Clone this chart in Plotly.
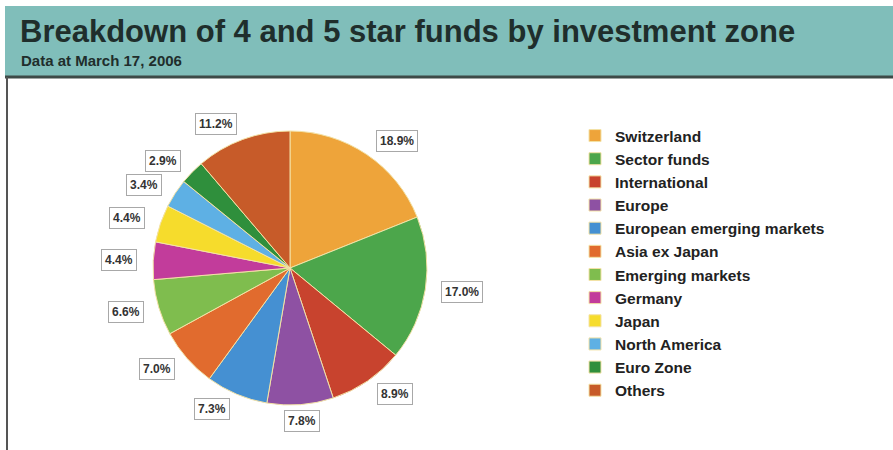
import math
import plotly.graph_objects as go

# Share of 4 and 5 star funds per investment zone (%)
zones = ["Switzerland", "Sector funds", "International", "Europe",
         "European emerging markets", "Asia ex Japan", "Emerging markets",
         "Germany", "Japan", "North America", "Euro Zone", "Others"]
shares = [18.9, 17.0, 8.9, 7.8, 7.3, 7.0, 6.6, 4.4, 4.4, 3.4, 2.9, 11.2]
colors = ["#eea43a", "#4ca64b", "#c8432e", "#8e51a3", "#4590d2", "#e16b2e",
          "#7fbd4e", "#c23c9b", "#f6dc2c", "#5eb0e4", "#2f8f3c", "#c75b29"]

W, H = 893, 450
cx, cy, r = 290, 268, 137  # pie centre and radius in pixels

fig = go.Figure(go.Pie(
    labels=zones, values=shares, sort=False, direction="clockwise", rotation=0,
    marker=dict(colors=colors, line=dict(color="#f3e2a6", width=1)),
    textinfo="none", hoverinfo="label+percent",
    domain=dict(x=[(cx - r) / W, (cx + r) / W],
                y=[(H - cy - r) / H, (H - cy + r) / H]),
))

# Boxed value labels placed just outside each slice's mid-angle,
# anchored on the side facing away from the pie
label_r = 153
cum = 0.0
total = sum(shares)
for v in shares:
    mid = (cum + v / 2) / total * 2 * math.pi
    cum += v
    s, c = math.sin(mid), math.cos(mid)
    px = cx + label_r * s
    py = cy - label_r * c
    anchor = "center" if abs(s) < 0.2 else ("left" if s > 0 else "right")
    fig.add_annotation(
        x=px / W, y=1 - py / H, xref="paper", yref="paper",
        xanchor=anchor, yanchor="middle",
        text=f"<b>{v:.1f}%</b>", showarrow=False,
        font=dict(family="Liberation Sans", size=12, color="#333333"),
        bgcolor="white", bordercolor="#a8a8a8", borderwidth=1, borderpad=3,
    )

# Header band with title and date line
fig.add_shape(type="rect", xref="paper", yref="paper",
              x0=5 / W, x1=1, y0=1 - 76 / H, y1=1 - 6 / H,
              fillcolor="#80beba", line=dict(width=0), layer="below")
fig.add_shape(type="line", xref="paper", yref="paper",
              x0=5 / W, x1=1, y0=1 - 77 / H, y1=1 - 77 / H,
              line=dict(color="#3d4a47", width=3))
fig.add_shape(type="line", xref="paper", yref="paper",
              x0=7 / W, x1=7 / W, y0=0, y1=1 - 77 / H,
              line=dict(color="#555555", width=2))
fig.add_annotation(x=18 / W, y=1 - 31 / H, xref="paper", yref="paper",
                   xanchor="left", yanchor="middle", showarrow=False,
                   text="<b>Breakdown of 4 and 5 star funds by investment zone</b>",
                   font=dict(family="Liberation Sans", size=31, color="#1f2e2c"))
fig.add_annotation(x=19 / W, y=1 - 61 / H, xref="paper", yref="paper",
                   xanchor="left", yanchor="middle", showarrow=False,
                   text="<b>Data at March 17, 2006</b>",
                   font=dict(family="Liberation Sans", size=15, color="#1f2e2c"))

fig.update_layout(
    width=W, height=H, margin=dict(l=0, r=0, t=0, b=0),
    paper_bgcolor="white", plot_bgcolor="white",
    showlegend=True,
    legend=dict(x=575 / W, y=1 - 119 / H, xanchor="left", yanchor="top",
                font=dict(family="Liberation Sans", size=15.5, color="#222222",
                          weight="bold"),
                bgcolor="rgba(0,0,0,0)", traceorder="normal"),
)

fig.write_html("out.html")
